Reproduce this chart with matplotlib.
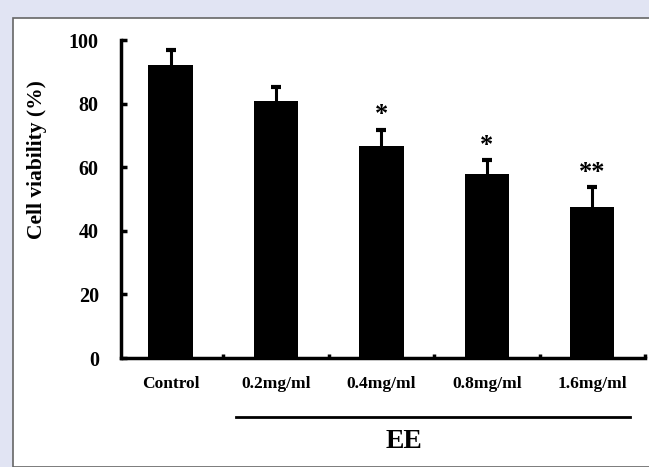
import matplotlib.pyplot as plt
from matplotlib.patches import Rectangle
from matplotlib.lines import Line2D
import matplotlib.transforms as mtransforms

# values
groups = ["Control", "0.2mg/ml", "0.4mg/ml", "0.8mg/ml", "1.6mg/ml"]
viability = [92.2, 80.8, 66.8, 57.8, 47.4]
sd = [4.8, 4.5, 5.0, 4.5, 6.4]
marks = ["", "", "*", "*", "**"]
yticks = [0, 20, 40, 60, 80, 100]

plt.rcParams['font.family'] = ['Liberation Serif', 'DejaVu Serif']
plt.rcParams['font.weight'] = 'bold'

fig = plt.figure(figsize=(6.49, 4.67), dpi=100)
fig.patch.set_facecolor('#e1e4f3')
# white panel behind the chart
fig.add_artist(Rectangle((13 / 649, 0), 1, 1 - 18 / 467, transform=fig.transFigure,
                         facecolor='white', edgecolor='#666666', linewidth=1.2,
                         zorder=-10))

ax = fig.add_axes([121 / 649, 1 - 358 / 467, (645 - 121) / 649, 318 / 467])
ax.set_facecolor('none')
x = list(range(len(groups)))
ax.bar(x, viability, width=0.42, color='black')
eb = ax.errorbar(x, viability, yerr=[[0] * len(sd), sd], fmt='none', ecolor='black',
                 elinewidth=2.2, capsize=3.5, capthick=3)
# only the upper cap is wanted
for cap in eb[1]:
    if list(cap.get_ydata()) == viability:
        cap.set_visible(False)

for xi, v, e, m in zip(x, viability, sd, marks):
    if m:
        ax.text(xi, v + e + 2.6, m, ha='center', va='baseline', fontsize=19,
                fontweight='bold')

ax.set_xlim(-0.47, 4.49)
ax.set_ylim(0, 100)
ax.set_yticks(yticks)
ax.set_yticklabels([str(t) for t in yticks], fontsize=14.5, fontweight='bold')
ax.set_xticks(x)
ax.set_xticklabels(groups, fontsize=12.5, fontweight='bold')
ax.set_xticks([0.5, 1.5, 2.5, 3.5, 4.5], minor=True)
ax.tick_params(axis='x', which='major', length=0, pad=13)
ax.tick_params(axis='x', which='minor', direction='in', length=3, width=2.5)
ax.tick_params(axis='y', direction='in', length=4, width=2.5, pad=16)

for s in ['top', 'right']:
    ax.spines[s].set_visible(False)
for s in ['left', 'bottom']:
    ax.spines[s].set_linewidth(2.5)

ax.set_ylabel("Cell viability (%)", fontsize=15.5, fontweight='bold')
ax.yaxis.set_label_coords(-0.141, 0.623)

trans = mtransforms.blended_transform_factory(ax.transData, ax.transAxes)
ax.add_line(Line2D([0.62, 4.36], [-0.186, -0.186], transform=trans, color='black',
                   linewidth=2, clip_on=False))
ax.text(2.21, -0.262, "EE", transform=trans, ha='center', va='center', fontsize=20,
        fontweight='bold')

fig.savefig("out.png", dpi=100, facecolor=fig.get_facecolor())
